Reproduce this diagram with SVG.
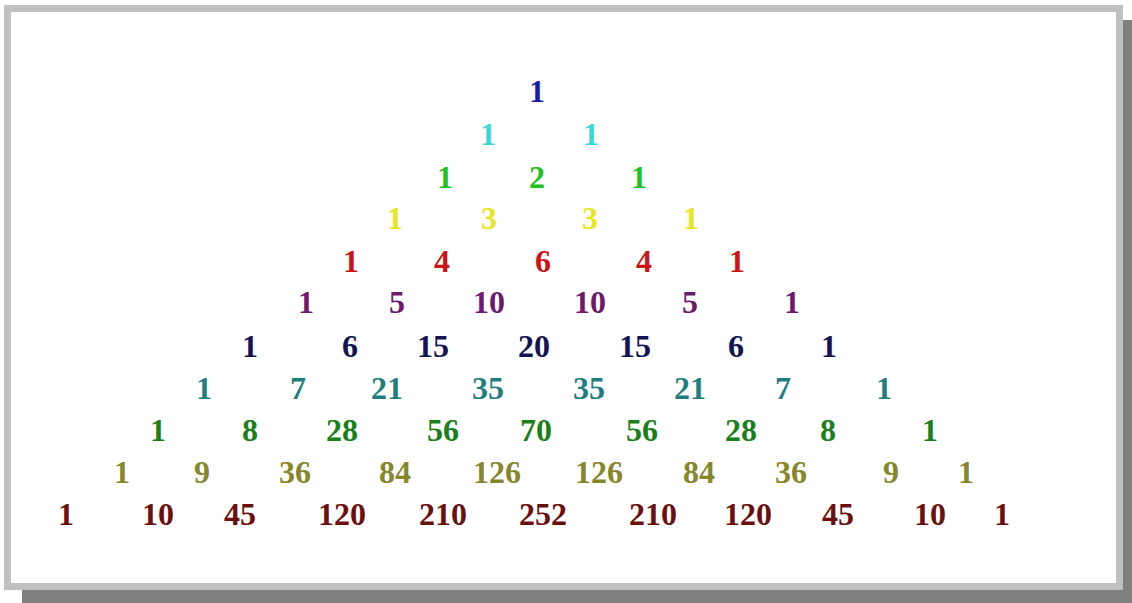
<svg xmlns="http://www.w3.org/2000/svg" width="1132" height="603" viewBox="0 0 1132 603">
<style>
text{font-family:"Liberation Serif","Times New Roman",serif;font-weight:bold;font-size:32px;text-anchor:middle}
.r0{fill:#1a1aa8}.r1{fill:#3cd6d6}.r2{fill:#1fc21f}.r3{fill:#e6e620}.r4{fill:#cc1414}
.r5{fill:#6e186e}.r6{fill:#141452}.r7{fill:#1f7f7f}.r8{fill:#1a801a}.r9{fill:#86862a}.r10{fill:#6b0f0f}
</style>
<rect width="1132" height="603" fill="#ffffff"/>
<g id="frame">
<rect x="22" y="20" width="1110" height="583" fill="#808080"/>
<rect x="7.5" y="8.5" width="1112" height="578" fill="#ffffff" stroke="#c0c0c0" stroke-width="7"/>
</g>
<g id="row0" class="r0"><text x="537" y="102">1</text></g>
<g id="row1" class="r1"><text x="488" y="145">1</text><text x="591" y="145">1</text></g>
<g id="row2" class="r2"><text x="445" y="188">1</text><text x="537" y="188">2</text><text x="639" y="188">1</text></g>
<g id="row3" class="r3"><text x="395" y="229">1</text><text x="489" y="229">3</text><text x="590" y="229">3</text><text x="691" y="229">1</text></g>
<g id="row4" class="r4"><text x="351" y="272">1</text><text x="442" y="272">4</text><text x="543" y="272">6</text><text x="644" y="272">4</text><text x="737" y="272">1</text></g>
<g id="row5" class="r5"><text x="306" y="313">1</text><text x="397" y="313">5</text><text x="489" y="313">10</text><text x="590" y="313">10</text><text x="690" y="313">5</text><text x="792" y="313">1</text></g>
<g id="row6" class="r6"><text x="250" y="357">1</text><text x="350" y="357">6</text><text x="433" y="357">15</text><text x="534" y="357">20</text><text x="635" y="357">15</text><text x="736" y="357">6</text><text x="829" y="357">1</text></g>
<g id="row7" class="r7"><text x="204" y="399">1</text><text x="298" y="399">7</text><text x="387" y="399">21</text><text x="488" y="399">35</text><text x="589" y="399">35</text><text x="690" y="399">21</text><text x="783" y="399">7</text><text x="884" y="399">1</text></g>
<g id="row8" class="r8"><text x="158" y="441">1</text><text x="250" y="441">8</text><text x="342" y="441">28</text><text x="443" y="441">56</text><text x="536" y="441">70</text><text x="642" y="441">56</text><text x="741" y="441">28</text><text x="828" y="441">8</text><text x="930" y="441">1</text></g>
<g id="row9" class="r9"><text x="122" y="483">1</text><text x="202" y="483">9</text><text x="295" y="483">36</text><text x="395" y="483">84</text><text x="497" y="483">126</text><text x="599" y="483">126</text><text x="699" y="483">84</text><text x="791" y="483">36</text><text x="891" y="483">9</text><text x="966" y="483">1</text></g>
<g id="row10" class="r10"><text x="66" y="525">1</text><text x="158" y="525">10</text><text x="240" y="525">45</text><text x="342" y="525">120</text><text x="443" y="525">210</text><text x="543" y="525">252</text><text x="653" y="525">210</text><text x="748" y="525">120</text><text x="838" y="525">45</text><text x="930" y="525">10</text><text x="1002" y="525">1</text></g>
</svg>
